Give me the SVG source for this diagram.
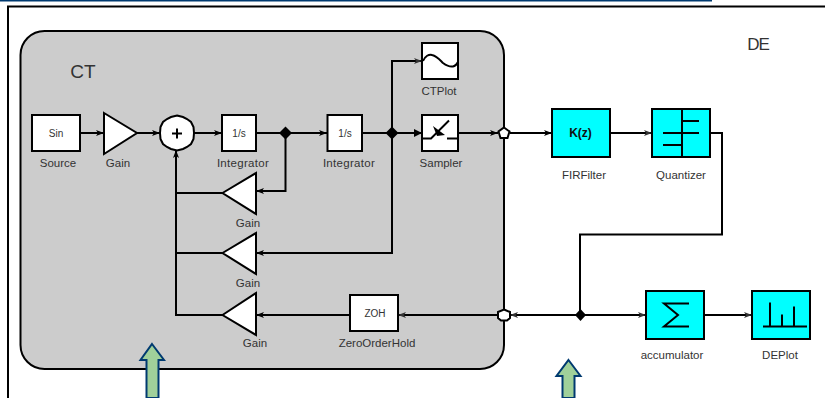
<svg xmlns="http://www.w3.org/2000/svg" width="825" height="398" viewBox="0 0 825 398">
<style>
text{font-family:"Liberation Sans",Arial,sans-serif;fill:#333;text-anchor:middle}
.l{font-size:11.500px}
.b{fill:#fff;stroke:#000;stroke-width:2}
.c{fill:#0ff;stroke:#000;stroke-width:2}
.k{fill:none;stroke:#000;stroke-width:2}
.w{fill:none;stroke:#000;stroke-width:2;stroke-linejoin:round}
.g{fill:#a0d09a;stroke:#003a70;stroke-width:2}
.t{font-size:10px}
.i{letter-spacing:.3px}
</style>
<defs>
<marker id="a" markerUnits="userSpaceOnUse" markerWidth="10" markerHeight="8" refX="8" refY="4" orient="auto"><path d="M0 1 L8 4 L0 7 L2 4 Z" fill="#000"/></marker>
<marker id="o" markerUnits="userSpaceOnUse" markerWidth="10" markerHeight="8" refX="8" refY="4" orient="auto"><path d="M0 1 L8 4 L0 7 L2 4 Z" fill="#333"/></marker>
<marker id="s" markerUnits="userSpaceOnUse" markerWidth="10" markerHeight="10" refX="9" refY="5" orient="auto"><path d="M1 1 L9 5 L1 9 Z" fill="#000"/></marker>
</defs>
<rect id="topline" x="0" y="0" width="712" height="1.500" fill="#003a70"/>
<path id="frame" class="k" d="M8 398 V6.500 H825"/>
<g id="CT"><rect x="20.500" y="31" width="483.500" height="338" rx="24" ry="24" fill="#ccc" stroke="#000" stroke-width="2"/><text x="83" y="78" font-size="19">CT</text></g>
<text id="DE" x="758" y="50" font-size="17" letter-spacing="-1">DE</text>
<g id="connectors">
<path class="k" d="M80 133 H104" marker-end="url(#a)"/>
<path class="k" d="M137 133 H160" marker-end="url(#a)"/>
<path class="k" d="M194 133 H222" marker-end="url(#a)"/>
<path class="k" d="M256 133 H327" marker-end="url(#a)"/>
<path class="k" d="M362 133 H422" marker-end="url(#s)"/>
<path class="k" d="M392 133 V61 H422" marker-end="url(#o)"/>
<path class="k" d="M458 133 H498" marker-end="url(#a)"/>
<path class="k" d="M510 133 H552" marker-end="url(#a)"/>
<path class="k" d="M610 133 H652" marker-end="url(#o)"/>
<path class="k" d="M710 133 H722 V234.500 H580 V315"/>
<path class="k" d="M285.500 133 V191 H256" marker-end="url(#a)"/>
<path class="k" d="M392 133 V253 H256" marker-end="url(#a)"/>
<path class="k" d="M350 315 H256" marker-end="url(#a)"/>
<path class="k" d="M498 315 H398" marker-end="url(#o)"/>
<path class="k" d="M645 315 H510" marker-end="url(#o)"/>
<path class="k" d="M580 315 H646" marker-end="url(#o)"/>
<path class="k" d="M704 315 H752" marker-end="url(#o)"/>
<path class="k" d="M222 315 H176 V150" marker-end="url(#a)"/>
<path class="k" d="M222 253 H176"/>
<path class="k" d="M222 193 H176"/>
</g>
<g id="Source"><rect class="b" x="32" y="115" width="48" height="36"/><text class="t" x="56" y="137">Sin</text><text class="l" x="58" y="167">Source</text></g>
<g id="Gain1"><path class="b" d="M104 113 L137 133 L104 154 Z"/><text class="l" x="118" y="167">Gain</text></g>
<g id="Sum"><path class="b" d="M177 115.500 L183 117 L187 119 L191 122 L193.500 127 L194 133 L193.500 139 L191 144 L187 147 L183 149 L177 150.500 L171 149 L167 147 L163 144 L160.500 139 L160 133 L160.500 127 L163 122 L167 119 L171 117 Z"/><path class="k" d="M172 133.500 H182 M177 128.500 V138.500" stroke-width="1.600"/></g>
<g id="Integrator1"><rect class="b" x="222" y="115" width="34" height="36"/><text class="t" x="239" y="137">1/s</text><text class="l i" x="243" y="167">Integrator</text></g>
<path id="junction1" d="M285.500 126.500 L292 133 L285.500 139.500 L279 133 Z" fill="#000"/>
<g id="Integrator2"><rect class="b" x="327.500" y="115" width="34.500" height="36"/><text class="t" x="345" y="137">1/s</text><text class="l i" x="349" y="167">Integrator</text></g>
<path id="junction2" d="M392 126.500 L398.500 133 L392 139.500 L385.500 133 Z" fill="#000"/>
<g id="CTPlot"><rect class="b" x="422" y="43" width="36" height="36"/><path class="w" d="M423 61 C425 56 429 54 432 55 C437 56 440 60 443 63 C447 66 450 67 453 66.500 C456 66 457 64 458 62"/><text class="l" x="439" y="95">CTPlot</text></g>
<g id="Sampler"><rect class="b" x="422" y="115" width="36" height="36"/><path class="k" d="M422 138.500 H431 L449 120.500 M447 138.500 H458"/><path d="M433 126 L445 135 L437 136 Z" fill="#000"/><text class="l" x="441" y="167">Sampler</text></g>
<path id="port1" class="b" d="M504 127.500 L509.500 131.500 L507.500 138 L500.500 138 L498.500 131.500 Z"/>
<path id="port2" class="b" d="M504 309.500 L510 312 L510 318 L507 320.500 L501 320.500 L498 318 L498 312 Z"/>
<g id="FIRFilter"><rect class="c" x="552" y="109" width="58" height="48"/><text x="580.500" y="137" font-size="12" font-weight="bold" style="fill:#111">K(z)</text><text class="l" x="584" y="179">FIRFilter</text></g>
<g id="Quantizer"><rect class="c" x="652" y="109" width="58" height="48"/><path class="k" d="M682 109 V157 M682 121 H699 M663 133 H699 M663 145 H682"/><text class="l" x="681" y="179">Quantizer</text></g>
<path id="junction3" d="M580.500 309 L586 315 L580.500 321 L575 315 Z" fill="#000"/>
<g id="Gain2"><path class="b" d="M222.500 193 L256 173 L256 214 Z"/><text class="l" x="248" y="227">Gain</text></g>
<g id="Gain3"><path class="b" d="M222.500 253 L256 233 L256 274 Z"/><text class="l" x="248" y="287">Gain</text></g>
<g id="Gain4"><path class="b" d="M222.500 315 L256 293 L256 335 Z"/><text class="l" x="255" y="347">Gain</text></g>
<g id="ZeroOrderHold"><rect class="b" x="350" y="295" width="48" height="36"/><text class="t" x="375" y="317">ZOH</text><text class="l" x="377" y="347">ZeroOrderHold</text></g>
<g id="accumulator"><rect class="c" x="646" y="291" width="58" height="48"/><path class="k" d="M689 303.500 H664 L678 315 L664 326.500 H689"/><text class="l" x="672" y="359">accumulator</text></g>
<g id="DEPlot"><rect class="c" x="752" y="291" width="58" height="48"/><path class="k" d="M763 326.500 H807 M770 326.500 V302.500 M782 326.500 V314.500 M794 326.500 V306.500"/><text class="l" x="780" y="359">DEPlot</text></g>
<path id="arrow1" class="g" d="M152 344 L164 360 H158.500 V398 H146.500 V360 H140.500 Z"/>
<path id="arrow2" class="g" d="M568.500 360 L580.500 376 H574.500 V398 H562.500 V376 H556.500 Z"/>
</svg>
